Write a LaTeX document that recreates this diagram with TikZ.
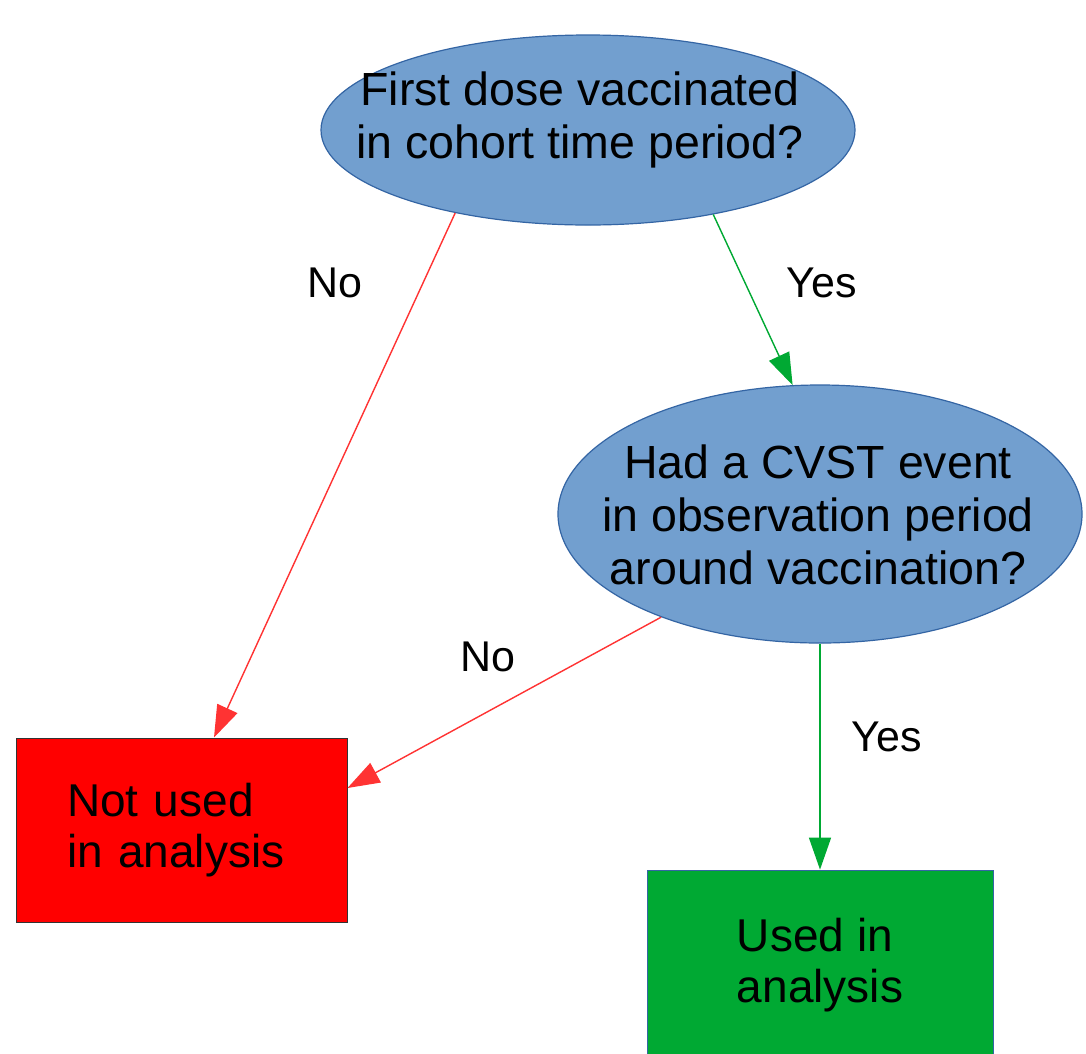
\documentclass[tikz,border=0pt]{standalone}
\usepackage{fontspec}
\setmainfont{Liberation Sans}
\usetikzlibrary{shapes.geometric,arrows.meta,calc}
\definecolor{qfill}{HTML}{729FCF}
\definecolor{qline}{HTML}{3465A4}
\definecolor{nored}{HTML}{FF0000}
\definecolor{yesgreen}{HTML}{00A933}
\definecolor{noline}{HTML}{FF3333}
\begin{document}
\begin{tikzpicture}[x=1pt,y=-1pt,
  question/.style={ellipse,draw=qline,fill=qfill,line width=1.2pt,inner sep=0pt},
  qtext/.style={align=center,inner sep=0pt,font=\fontsize{46.5}{53}\selectfont},
  outbox/.style={rectangle,inner sep=0pt,align=left,font=\fontsize{46}{51}\selectfont},
  lbl/.style={font=\fontsize{43}{50}\selectfont},
  noarrow/.style={draw=noline,line width=1.4pt,-{Triangle[length=32pt,width=22pt]},fill=noline},
  yesarrow/.style={draw=yesgreen,line width=1.4pt,-{Triangle[length=32pt,width=22pt]},fill=yesgreen}]
\clip (0,0) rectangle (1086,1053);
\fill[white] (0,0) rectangle (1086,1053);
\node[question,minimum width=534pt,minimum height=190pt] (q1) at (588,130) {};
\node[qtext] (t1) at (580,120) {First dose vaccinated\\in cohort time period?};
\node[question,minimum width=524pt,minimum height=258pt] (q2) at (820,514) {};
\node[qtext] (t2) at (818,515) {Had a CVST event\\in observation period\\around vaccination?};
\node[outbox,fill=nored,draw=black!80,line width=1pt,minimum width=331pt,minimum height=184pt,text width=229pt] (nu) at (181.5,830) {Not used\\in analysis};
\node[outbox,fill=yesgreen,draw=qline,line width=0.8pt,minimum width=346pt,minimum height=190pt] (u) at (820,965) {Used in\\analysis};
\draw[noarrow] (q1.212) -- ($(nu.north)+(32.5,0)$);
\draw[yesarrow] (q1.326) -- (q2.102);
\draw[noarrow] (q2.213) -- ($(nu.east)+(0,-42)$);
\draw[yesarrow] (q2.south) -- (u.north);
\node[lbl] (l1) at (335,283) {No};
\node[lbl] (l2) at (822,283) {Yes};
\node[lbl] (l3) at (488,657) {No};
\node[lbl] (l4) at (887,737) {Yes};
\end{tikzpicture}
\end{document}
